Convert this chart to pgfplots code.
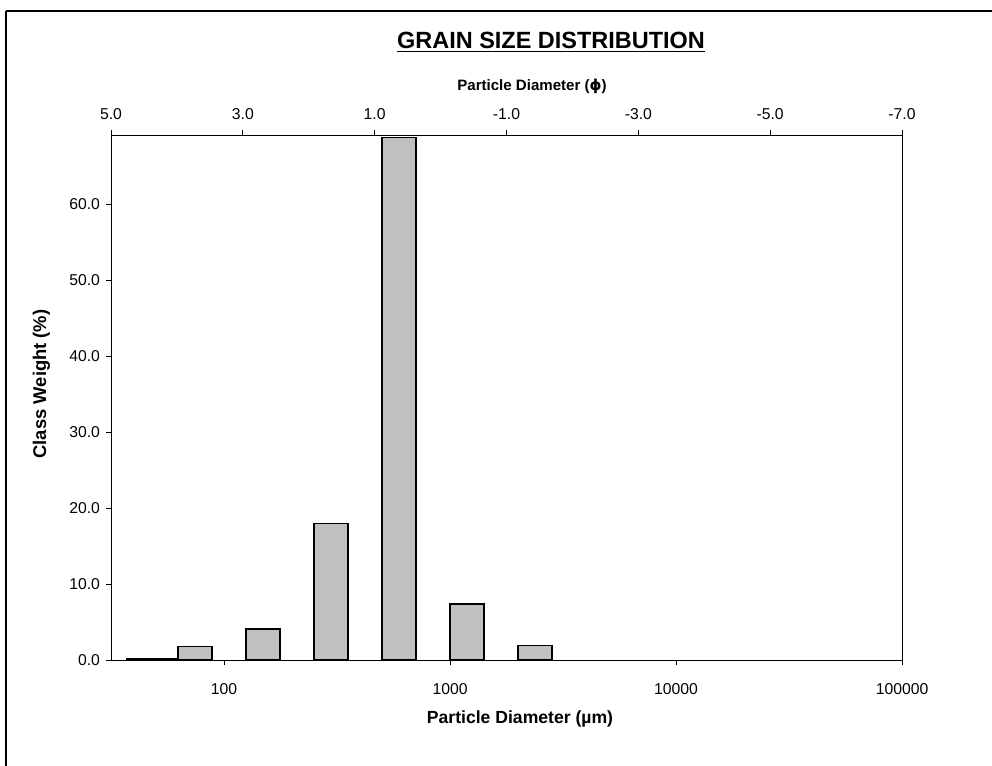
\documentclass[border=0pt]{standalone}
\usepackage{pgfplots}
\pgfplotsset{compat=1.18}
\usepackage{fontspec}
\setmainfont{Liberation Sans}
\newfontfamily\symfont{DejaVu Sans}
\definecolor{barfill}{HTML}{C0C0C0}

\begin{document}
\begin{tikzpicture}[x=0.75pt,y=-0.75pt]
\useasboundingbox (0,0) rectangle (992,766);
% chart frame (left and top edges)
\draw[line width=1.5pt] (6,11) -- (1020,11);
\draw[line width=1.5pt] (6,11) -- (6,790);

% title and axis titles
\node[anchor=base, font=\bfseries\fontsize{17.6}{20}\selectfont] at (551,49) {\underline{GRAIN SIZE DISTRIBUTION}};
\node[anchor=base, font=\bfseries\fontsize{11.3}{13}\selectfont] at (532,91) {Particle Diameter ({\symfont ϕ})};
\node[anchor=base, font=\bfseries\fontsize{13.2}{15}\selectfont] at (520,723) {Particle Diameter (µm)};
\node[anchor=base, rotate=90, font=\bfseries\fontsize{13.8}{15}\selectfont] at (46,384) {Class Weight (\%)};

% primary axis: class weight against diameter in micrometres
\begin{axis}[
  at={(83.25pt,-495pt)}, anchor=south west,
  scale only axis, width=593.25pt, height=393.75pt,
  xmode=log, xmin=31.623, xmax=100000,
  ymin=0, ymax=69.1,
  xminorticks=false,
  xtick={100,1000,10000,100000},
  xticklabels={100,1000,10000,100000},
  ytick={0,10,20,30,40,50,60},
  yticklabels={0.0,10.0,20.0,30.0,40.0,50.0,60.0},
  tick align=outside, xtick pos=bottom, ytick pos=left,
  major tick length=3.75pt,
  tick style={black, line width=0.6pt},
  axis line style={line width=0.6pt},
  ticklabel style={font=\fontsize{11.8}{13}\selectfont},
  xticklabel style={yshift=-10pt},
  yticklabel style={xshift=-1pt},
  /pgf/number format/assume math mode=true,
]
\addplot[fill=black!80, draw=black, line width=1pt] coordinates {(37.16,0.2) (62.5,0.2)} \closedcycle;
\addplot[fill=barfill, draw=black, line width=1pt] coordinates {(62.5,1.75) (88.39,1.75)} \closedcycle;
\addplot[fill=barfill, draw=black, line width=1pt] coordinates {(125,4.08) (176.78,4.08)} \closedcycle;
\addplot[fill=barfill, draw=black, line width=1pt] coordinates {(250,18.0) (353.55,18.0)} \closedcycle;
\addplot[fill=barfill, draw=black, line width=1pt] coordinates {(500,68.8) (707.1,68.8)} \closedcycle;
\addplot[fill=barfill, draw=black, line width=1pt] coordinates {(1000,7.37) (1414.2,7.37)} \closedcycle;
\addplot[fill=barfill, draw=black, line width=1pt] coordinates {(2000,1.88) (2828.4,1.88)} \closedcycle;
\end{axis}

% secondary axis: phi scale along the top
\begin{axis}[
  at={(83.25pt,-495pt)}, anchor=south west,
  scale only axis, width=593.25pt, height=393.75pt,
  xmin=-7, xmax=5, x dir=reverse,
  ymin=0, ymax=1,
  axis x line*=top, axis y line=none,
  xtick={5,3,1,-1,-3,-5,-7},
  xticklabels={5.0,3.0,1.0,-1.0,-3.0,-5.0,-7.0},
  tick align=outside,
  major tick length=3.75pt,
  tick style={black, line width=0.6pt},
  axis line style={line width=0.6pt},
  ticklabel style={font=\fontsize{11.8}{13}\selectfont},
  xticklabel style={yshift=4pt},
  /pgf/number format/assume math mode=true,
]
\end{axis}
\end{tikzpicture}
\end{document}
